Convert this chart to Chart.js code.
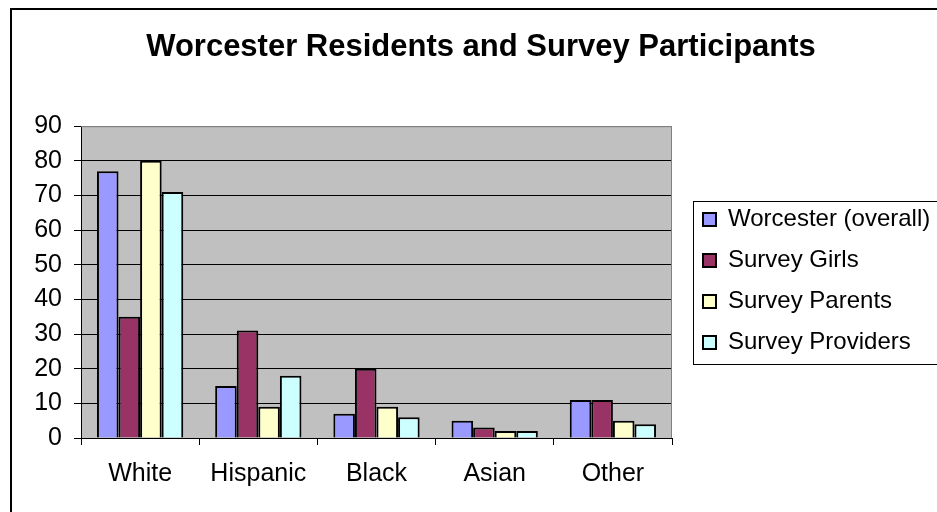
<!DOCTYPE html>
<html>
<head>
<meta charset="utf-8">
<script src="https://cdn.jsdelivr.net/npm/chart.js@4/dist/chart.umd.min.js"></script>
<style>
  html, body { margin: 0; padding: 0; background: #fff; overflow: hidden; }
  #wrap { width: 937px; height: 512px; overflow: hidden; }
</style>
</head>
<body>
<div id="wrap"><canvas id="chart" width="982" height="512"></canvas></div>
<script>
// data (percent)
const categories = ['White', 'Hispanic', 'Black', 'Asian', 'Other'];
const worcester = [77, 15, 7, 5, 11];
const surveyGirls = [35, 31, 20, 3, 11];
const surveyParents = [80, 9, 9, 2, 5];
const surveyProviders = [71, 18, 6, 2, 4];
const yTicks = [0, 10, 20, 30, 40, 50, 60, 70, 80, 90];

const FONT = '"Liberation Sans", Arial, sans-serif';

// gray plot area, outer frame, legend frame
const backdrop = {
  id: 'backdrop',
  beforeDraw(chart) {
    const { ctx, chartArea: a } = chart;
    ctx.save();
    ctx.strokeStyle = '#000';
    ctx.lineWidth = 2;
    ctx.strokeRect(11, 9, 2000, 2000);
    ctx.fillStyle = '#c0c0c0';
    ctx.fillRect(a.left, a.top, a.right - a.left, a.bottom - a.top);
    ctx.restore();
  },
  afterDraw(chart) {
    const { ctx, chartArea: a } = chart;
    ctx.save();
    ctx.strokeStyle = '#808080';
    ctx.lineWidth = 1;
    ctx.beginPath();
    ctx.moveTo(a.left, a.top + 0.5);
    ctx.lineTo(a.right - 0.5, a.top + 0.5);
    ctx.lineTo(a.right - 0.5, a.bottom);
    ctx.stroke();
    const lg = chart.legend;
    const hb = lg.legendHitBoxes;
    if (hb && hb.length) {
      const top = Math.round(hb[0].top - 7);
      const bottom = Math.round(hb[hb.length - 1].top + hb[hb.length - 1].height + 9);
      ctx.strokeStyle = '#000';
      ctx.lineWidth = 1;
      ctx.strokeRect(Math.round(lg.left + 7) + 0.5, top + 0.5, 400, bottom - top);
    }
    ctx.restore();
  }
};

// move the legend off the plot and down to the plot's middle, recentre the title
const legendShift = {
  id: 'legendShift',
  afterLayout(chart) {
    const lg = chart.legend;
    lg.left = chart.chartArea.right + 14;
    lg.right = chart.width;
    lg.width = lg.right - lg.left;
    lg.top += 25;
    lg.bottom += 25;
    chart.titleBlock.left += 26;
    chart.titleBlock.right += 26;
  }
};

const ctx = document.getElementById('chart').getContext('2d');
const bar = (label, data, color) => ({
  label: label,
  data: data,
  backgroundColor: color,
  borderColor: '#000',
  borderWidth: 2,
  borderSkipped: 'bottom',
  categoryPercentage: 0.73,
  barPercentage: 1.0
});

new Chart(ctx, {
  type: 'bar',
  data: {
    labels: categories,
    datasets: [
      bar('Worcester (overall)', worcester, '#9999ff'),
      bar('Survey Girls', surveyGirls, '#993366'),
      bar('Survey Parents', surveyParents, '#ffffcc'),
      bar('Survey Providers', surveyProviders, '#ccffff')
    ]
  },
  options: {
    responsive: false,
    animation: false,
    layout: { padding: { left: 21, right: 93, top: 0, bottom: 0 } },
    plugins: {
      title: {
        display: true,
        text: 'Worcester Residents and Survey Participants',
        color: '#000',
        font: { family: FONT, size: 31, weight: 'bold', lineHeight: 1.2 },
        padding: { top: 29, bottom: 60 }
      },
      legend: {
        position: 'right',
        labels: {
          color: '#000',
          font: { family: FONT, size: 24 },
          boxWidth: 13,
          boxHeight: 13,
          padding: 17
        }
      },
      tooltip: { enabled: false }
    },
    scales: {
      x: {
        grid: {
          display: true,
          drawOnChartArea: false,
          drawTicks: true,
          tickLength: 7,
          color: '#000',
          offset: true
        },
        border: { display: true, color: '#000', width: 1 },
        ticks: {
          color: '#000',
          font: { family: FONT, size: 25 },
          padding: 14,
          maxRotation: 0
        },
        afterFit(scale) { scale.height = 74; }
      },
      y: {
        min: 0,
        max: 90,
        afterBuildTicks(scale) { scale.ticks = yTicks.map(v => ({ value: v })); },
        grid: {
          color: (c) => (c.tick && c.tick.value === 90 ? '#808080' : '#000'),
          tickColor: '#000',
          tickLength: 7,
          lineWidth: 1
        },
        border: { display: true, color: '#000', width: 1 },
        ticks: {
          color: '#000',
          font: { family: FONT, size: 25 },
          padding: 12
        },
        afterFit(scale) { scale.width = 60; }
      }
    }
  },
  plugins: [backdrop, legendShift]
});
</script>
</body>
</html>
